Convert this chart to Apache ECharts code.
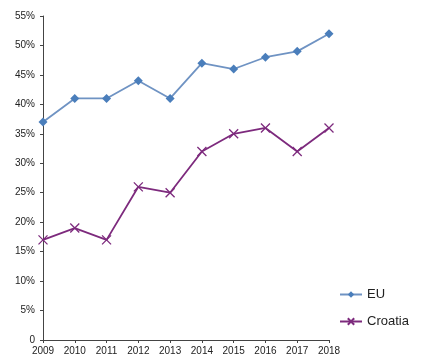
<!DOCTYPE html>
<html>
<head>
<meta charset="utf-8">
<script src="https://cdn.jsdelivr.net/npm/echarts@6/dist/echarts.min.js"></script>
<style>
  html, body { margin: 0; padding: 0; background: #fff; }
  #chart { width: 423px; height: 364px; }
</style>
</head>
<body>
<div id="chart"></div>
<script>
// Share of population (%) by year, EU average vs Croatia
const years = ['2009', '2010', '2011', '2012', '2013', '2014', '2015', '2016', '2017', '2018'];
const euValues = [37, 41, 41, 44, 41, 47, 46, 48, 49, 52];
const croatiaValues = [17, 19, 17, 26, 25, 32, 35, 36, 32, 36];
const seriesNames = ['EU', 'Croatia'];

const font = '"Liberation Sans Narrow", "Liberation Sans", sans-serif';
const crossPath = 'path://M0,0L10,10M10,0L0,10';

const chart = echarts.init(document.getElementById('chart'));
chart.setOption({
  animation: false,
  backgroundColor: '#ffffff',
  grid: { left: 43, right: 94, top: 16, bottom: 24, containLabel: false },
  legend: {
    orient: 'vertical',
    left: 334,
    top: 283,
    itemGap: 14,
    itemWidth: 22,
    itemHeight: 8,
    textStyle: { fontFamily: font, fontSize: 13, color: '#222' },
    data: seriesNames
  },
  xAxis: {
    type: 'category',
    data: years,
    boundaryGap: false,
    axisLine: { lineStyle: { color: '#444', width: 1 } },
    axisTick: { show: true, length: 3, lineStyle: { color: '#444' } },
    axisLabel: { fontFamily: font, fontSize: 10, color: '#222', margin: 6 },
    splitLine: { show: false }
  },
  yAxis: {
    type: 'value',
    min: 0,
    max: 55,
    interval: 5,
    axisLine: { show: true, lineStyle: { color: '#444', width: 1 } },
    axisTick: { show: true, length: 3, lineStyle: { color: '#444' } },
    axisLabel: {
      fontFamily: font, fontSize: 10, color: '#222', margin: 8,
      formatter: v => (v === 0 ? '0' : v + '%')
    },
    splitLine: { show: false }
  },
  series: [
    {
      name: seriesNames[0],
      type: 'line',
      data: euValues,
      symbol: 'diamond',
      symbolSize: 9,
      lineStyle: { color: '#6f93c3', width: 1.8 },
      itemStyle: { color: '#4a7ebb' }
    },
    {
      name: seriesNames[1],
      type: 'line',
      data: croatiaValues,
      symbol: crossPath,
      symbolSize: 9,
      lineStyle: { color: '#7d2a7d', width: 1.8 },
      itemStyle: { color: '#7d2a7d', borderColor: '#7d2a7d', borderWidth: 1.3 }
    }
  ]
});
</script>
</body>
</html>
